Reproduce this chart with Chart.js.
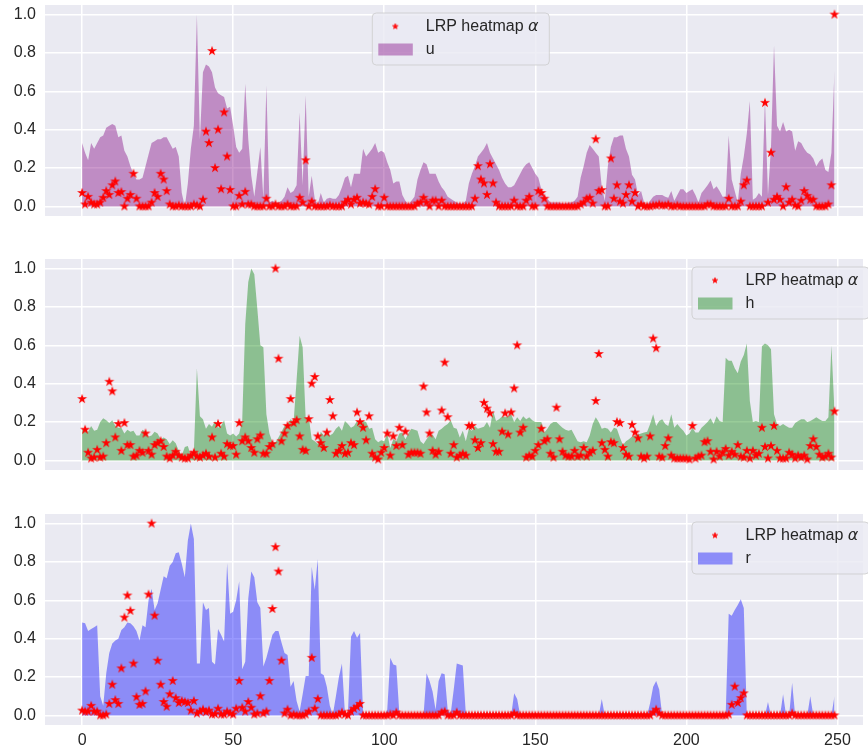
<!DOCTYPE html>
<html>
<head>
<meta charset="utf-8">
<script src="https://cdn.jsdelivr.net/npm/chart.js@4"></script>
<style>
  html, body { margin: 0; padding: 0; background: #ffffff; }
  #wrap { position: relative; width: 868px; height: 750px; overflow: hidden; background: #ffffff; }
  .panel { position: absolute; left: 0; width: 868px; }
  .panel canvas { display: block; }
</style>
</head>
<body>
<div id="wrap">
  <div class="panel" style="top:-5px"><canvas id="chartU" width="868" height="231"></canvas></div>
  <div class="panel" style="top:249px"><canvas id="chartH" width="868" height="231"></canvas></div>
  <div class="panel" style="top:504px"><canvas id="chartR" width="868" height="251"></canvas></div>
</div>
<script>
// Tick positions shared by the three panels
const yTickValues = [0, 0.2, 0.4, 0.6, 0.8, 1.0];
const xTickValues = [0, 50, 100, 150, 200, 250];

// Legend labels
const pointLegendText = 'LRP heatmap ';
const pointLegendSymbol = 'α';
const seriesNames = ['u', 'h', 'r'];

// Gate activation u (filled area) and LRP relevance per time step
const uArea = [
  0.33,0.28,0.24,0.33,0.30,0.33,0.36,0.37,0.41,0.42,
  0.43,0.42,0.36,0.37,0.29,0.26,0.21,0.17,0.14,0.14,
  0.15,0.21,0.27,0.33,0.34,0.35,0.35,0.36,0.36,0.33,
  0.30,0.31,0.26,0.07,0.00,0.12,0.30,0.42,1.00,0.35,
  0.70,0.74,0.73,0.70,0.62,0.59,0.58,0.57,0.51,0.52,
  0.42,0.31,0.28,0.30,0.64,0.35,0.16,0.05,0.18,0.31,
  0.04,0.63,0.02,0.03,0.02,0.02,0.03,0.05,0.10,0.07,
  0.08,0.11,0.49,0.11,0.58,0.05,0.16,0.04,0.01,0.07,
  0.02,0.04,0.045,0.04,0.04,0.06,0.10,0.15,0.16,0.10,
  0.17,0.17,0.17,0.30,0.26,0.28,0.30,0.33,0.28,0.29,
  0.28,0.23,0.19,0.12,0.13,0.13,0.06,0.03,0.01,0.03,
  0.05,0.14,0.19,0.23,0.22,0.17,0.17,0.17,0.13,0.10,
  0.08,0.05,0.04,0.03,0.02,0.015,0.015,0.03,0.12,0.17,
  0.21,0.26,0.28,0.30,0.33,0.28,0.25,0.22,0.19,0.15,
  0.12,0.10,0.10,0.11,0.14,0.17,0.20,0.22,0.23,0.20,
  0.17,0.15,0.09,0.06,0.04,0.02,0.02,0.02,0.02,0.015,
  0.015,0.02,0.02,0.03,0.05,0.15,0.21,0.28,0.32,0.30,
  0.28,0.26,0.10,0.03,0.21,0.31,0.36,0.36,0.37,0.37,
  0.30,0.26,0.165,0.14,0.06,0.08,0.02,0.01,0.03,0.05,
  0.06,0.06,0.06,0.05,0.045,0.08,0.03,0.06,0.09,0.09,
  0.07,0.08,0.09,0.06,0.02,0.07,0.09,0.11,0.135,0.09,
  0.105,0.08,0.05,0.05,0.37,0.14,0.08,0.02,0.17,0.26,
  0.38,0.55,0.035,0.045,0.07,0.05,0.56,0.06,0.31,0.84,
  0.42,0.39,0.44,0.39,0.40,0.39,0.29,0.34,0.33,0.30,
  0.28,0.27,0.25,0.21,0.235,0.25,0.19,0.18,0.28,0.71
];
const uAlpha = [
  0.07,0.01,0.05,0.02,0.01,0.01,0.02,0.045,0.08,0.06,
  0.11,0.13,0.07,0.075,0.00,0.04,0.06,0.17,0.04,0.00,
  0.00,0.00,0.00,0.02,0.07,0.05,0.17,0.14,0.08,0.01,
  0,0,0.005,0,0,0,0,0.01,0.005,0,
  0.035,0.39,0.33,0.81,0.20,0.40,0.09,0.49,0.26,0.086,
  0,0,0.055,0.01,0.076,0.01,0.01,0,0,0,
  0,0.04,0,0,0.01,0,0,0,0.01,0,
  0,0,0.045,0.02,0.24,0,0.025,0,0,0,
  0,0,0.005,0,0,0,0,0.02,0.035,0.01,
  0.035,0.045,0.015,0.02,0.015,0.01,0.05,0.09,0,0,
  0.045,0,0,0,0,0,0,0,0,0,
  0,0.015,0.02,0.045,0.02,0,0.03,0.03,0,0.03,
  0,0,0,0,0,0,0,0,0,0,
  0.04,0.21,0.14,0.12,0.06,0.22,0.12,0.02,0,0,
  0,0,0,0.03,0,0,0,0.03,0.05,0,
  0,0.08,0.07,0.04,0,0,0,0,0,0,
  0,0,0,0,0,0.01,0.02,0.04,0.045,0.015,
  0.35,0.08,0.085,0,0,0.25,0.04,0.11,0.025,0.015,
  0.06,0.11,0.025,0.07,0,0.01,0,0,0,0.005,
  0.005,0.01,0.005,0.005,0.01,0,0,0.005,0,0,
  0,0,0,0,0,0,0,0.01,0.01,0,
  0,0,0,0,0.04,0,0,0,0.025,0.11,
  0.135,0,0,0,0,0,0.54,0.02,0.28,0.035,
  0.05,0.035,0,0.10,0.02,0.035,0.005,0,0.03,0.08,
  0.055,0.035,0.035,0,0,0,0,0.01,0.11,1.00
];

// Hidden state h (filled area) and LRP relevance per time step
const hArea = [
  0.16,0.16,0.15,0.18,0.155,0.16,0.20,0.22,0.21,0.195,
  0.21,0.18,0.17,0.17,0.14,0.16,0.15,0.155,0.13,0.13,
  0.16,0.15,0.125,0.13,0.15,0.14,0.11,0.12,0.11,0.085,
  0.105,0.09,0.05,0.025,0.07,0.075,0.025,0.045,0.48,0.23,
  0.215,0.165,0.19,0.175,0.205,0.17,0.18,0.21,0.14,0.13,
  0.14,0.125,0.14,0.21,0.71,0.93,1.00,0.97,0.79,0.60,
  0.59,0.24,0.14,0.095,0.095,0.12,0.15,0.18,0.19,0.215,
  0.20,0.42,0.65,0.59,0.22,0.23,0.11,0.10,0.085,0.15,
  0.13,0.145,0.13,0.14,0.165,0.18,0.155,0.205,0.19,0.17,
  0.18,0.205,0.19,0.205,0.20,0.165,0.17,0.11,0.095,0.105,
  0.10,0.14,0.065,0.11,0.10,0.14,0.145,0.11,0.14,0.165,
  0.16,0.155,0.10,0.085,0.11,0.13,0.135,0.11,0.155,0.165,
  0.18,0.19,0.21,0.17,0.165,0.12,0.155,0.10,0.165,0.155,
  0.18,0.165,0.17,0.175,0.20,0.17,0.26,0.205,0.215,0.23,
  0.225,0.23,0.24,0.20,0.225,0.205,0.23,0.215,0.225,0.21,
  0.20,0.20,0.20,0.145,0.165,0.19,0.20,0.20,0.185,0.17,
  0.16,0.155,0.16,0.13,0.10,0.095,0.10,0.095,0.13,0.19,
  0.225,0.20,0.165,0.17,0.165,0.145,0.17,0.165,0.12,0.08,
  0.10,0.11,0.125,0.13,0.135,0.14,0.145,0.15,0.19,0.24,
  0.18,0.205,0.215,0.19,0.18,0.24,0.17,0.19,0.17,0.155,
  0.13,0.14,0.17,0.145,0.145,0.17,0.185,0.20,0.22,0.19,
  0.23,0.205,0.20,0.535,0.52,0.52,0.48,0.455,0.515,0.55,
  0.61,0.31,0.20,0.205,0.20,0.595,0.61,0.60,0.58,0.24,
  0.19,0.18,0.19,0.18,0.17,0.17,0.195,0.205,0.215,0.215,
  0.20,0.205,0.215,0.225,0.215,0.205,0.205,0.225,0.60,0.26
];
const hAlpha = [
  0.32,0.16,0.04,0.01,0.015,0.055,0.015,0.02,0.09,0.41,
  0.36,0.12,0.19,0.05,0.195,0.08,0.08,0.02,0.025,0.05,
  0.04,0.14,0.05,0.03,0.08,0.09,0.10,0.07,0.02,0.01,
  0.025,0.045,0.025,0.015,0.01,0.01,0.025,0.04,0.02,0.015,
  0.025,0.035,0.02,0.12,0.015,0.19,0.035,0.02,0.085,0.075,
  0.075,0.03,0.195,0.10,0.12,0.10,0.065,0.04,0.11,0.13,
  0.035,0.035,0.07,0.085,1.00,0.53,0.10,0.14,0.18,0.32,
  0.195,0.21,0.125,0.055,0.05,0.215,0.40,0.435,0.125,0.09,
  0.065,0.145,0.315,0.23,0.035,0.05,0.075,0.035,0.04,0.09,
  0.08,0.25,0.20,0.17,0.105,0.23,0.035,0.015,0.005,0.04,
  0.065,0.14,0.025,0.125,0.075,0.17,0.08,0.15,0.03,0.04,
  0.04,0.04,0.035,0.385,0.25,0.14,0.05,0.03,0.045,0.26,
  0.51,0.225,0.035,0.08,0.015,0.025,0.035,0.025,0.18,0.18,
  0.105,0.065,0.09,0.30,0.27,0.245,0.085,0.045,0.045,0.15,
  0.245,0.135,0.25,0.375,0.60,0.145,0.17,0.015,0.025,0.02,
  0.05,0.08,0.165,0.10,0.11,0.035,0.015,0.275,0.11,0.045,
  0.025,0.02,0.02,0.05,0.02,0.025,0.065,0.02,0.04,0.05,
  0.31,0.555,0.09,0.055,0.02,0.095,0.09,0.20,0.195,0.065,
  0.03,0.02,0.185,0.145,0.115,0.02,0.01,0.02,0.125,0.635,
  0.585,0.02,0.015,0.075,0.115,0.025,0.01,0.01,0.01,0.01,
  0.01,0.005,0.18,0.01,0.02,0.025,0.095,0.10,0.045,0.005,
  0.045,0.02,0.04,0.06,0.025,0.045,0.03,0.08,0.02,0.015,
  0.05,0.01,0.05,0.025,0.035,0.17,0.07,0.01,0.075,0.18,
  0.05,0.01,0.01,0.01,0.04,0.03,0.01,0.025,0.015,0.025,
  0.005,0.075,0.11,0.07,0.03,0.015,0.02,0.035,0.015,0.255
];

// Reset gate r (filled area) and LRP relevance per time step
const rArea = [
  0.485,0.48,0.44,0.45,0.46,0.47,0.10,0.05,0.22,0.325,
  0.375,0.39,0.40,0.445,0.46,0.485,0.48,0.465,0.44,0.39,
  0.47,0.46,0.60,0.66,0.55,0.585,0.655,0.725,0.715,0.78,
  0.80,0.845,0.85,0.79,0.72,0.91,1.00,0.92,0.27,0.27,
  0.59,0.55,0.56,0.28,0.265,0.45,0.42,0.385,0.795,0.53,
  0.54,0.60,0.70,0.24,0.28,0.61,0.75,0.72,0.59,0.56,
  0.255,0.30,0.36,0.42,0.44,0.44,0.38,0.325,0.315,0.15,
  0.18,0.075,0.02,0.11,0.205,0.205,0.775,0.655,0.815,0.22,
  0.21,0.15,0.05,0.005,0.10,0.20,0.27,0.01,0.015,0.41,
  0.44,0.405,0.43,0.01,0,0,0,0,0,0,
  0,0.03,0.30,0.265,0.26,0.01,0,0,0,0,
  0,0,0,0,0.22,0.18,0.125,0.03,0.18,0.22,
  0.215,0.03,0.01,0.135,0.27,0.265,0.26,0.01,0,0,
  0,0,0,0,0,0,0,0,0,0,
  0,0,0,0.115,0.085,0,0,0,0,0,
  0,0,0,0,0,0,0,0,0,0,
  0,0,0,0,0,0,0,0,0,0,
  0,0,0.085,0,0,0,0,0,0,0,
  0,0,0,0,0,0,0,0,0.065,0.15,
  0.18,0.135,0,0,0,0,0,0,0,0,
  0,0,0,0,0,0,0,0,0,0,
  0,0,0,0,0.53,0.52,0.55,0.575,0.605,0.56,
  0,0,0,0,0,0,0,0.07,0,0,
  0,0,0.11,0,0,0.17,0,0,0,0,
  0,0.10,0,0,0,0,0,0,0,0.10
];
const rAlpha = [
  0.025,0.02,0.02,0.05,0.02,0.02,0,0,0.005,0.06,
  0.16,0.08,0.06,0.245,0.51,0.625,0.545,0.27,0.095,0.055,
  0.06,0.125,0.63,1.00,0.52,0.285,0.16,0.07,0.045,0.11,
  0.18,0.09,0.065,0.075,0.07,0.065,0.025,0.075,0.01,0.02,
  0.03,0.017,0.025,0.005,0.007,0.035,0.005,0.005,0.02,0.01,
  0.005,0.035,0.18,0.04,0.02,0.07,0.04,0.005,0.01,0.10,
  0.01,0.02,0.18,0.555,0.877,0.75,0.285,0.01,0.03,0,
  0.005,0,0,0,0.005,0.02,0.30,0.035,0.085,0,
  0,0,0,0,0,0.005,0.015,0.005,0,0.02,
  0.035,0.045,0.06,0,0,0,0,0,0,0,
  0,0,0.005,0,0.015,0,0,0,0,0,
  0,0,0,0,0,0,0,0,0,0.015,
  0.02,0,0,0,0.015,0,0,0,0,0,
  0,0,0,0,0,0,0,0,0,0,
  0,0,0,0.01,0,0,0,0,0,0,
  0,0,0,0,0,0,0,0,0,0,
  0,0,0,0,0,0,0,0,0,0,
  0,0,0,0,0,0,0,0,0,0,
  0,0,0,0,0,0,0,0,0,0.015,
  0.03,0.01,0,0,0,0,0,0,0,0,
  0,0,0,0,0,0,0,0,0,0,
  0,0,0,0,0.005,0.055,0.15,0.065,0.09,0.115,
  0,0,0,0,0,0,0,0,0,0,
  0,0,0,0,0,0.01,0,0,0,0,
  0,0,0,0,0,0,0,0,0,0
];

const TEXT = '#262626';
const FONT = "'Liberation Sans', Arial, sans-serif";

// Filled five-pointed star used as the scatter marker
function makeStar(outer, lw) {
  const s = Math.ceil((outer + lw) * 2) + 2;
  const c = document.createElement('canvas');
  c.width = s; c.height = s;
  const g = c.getContext('2d');
  const inner = outer * 0.381966;
  g.beginPath();
  for (let k = 0; k < 10; k++) {
    const rad = k % 2 ? inner : outer;
    const a = -Math.PI / 2 + k * Math.PI / 5;
    const px = s / 2 + rad * Math.cos(a), py = s / 2 + rad * Math.sin(a);
    if (k) g.lineTo(px, py); else g.moveTo(px, py);
  }
  g.closePath();
  g.fillStyle = '#ff0000';
  g.fill();
  g.lineWidth = lw;
  g.strokeStyle = '#ff0000';
  g.stroke();
  return c;
}
const starMarker = makeStar(3.5, 1.1);
const starLegend = makeStar(2.8, 0.8);

// Legend box drawn inside the plot area
const boxLegend = {
  id: 'boxLegend',
  afterDraw(chart, args, o) {
    const g = chart.ctx;
    const left = o.left, top = chart.chartArea.top + 8, w = 177, h = 52, rr = 4;
    g.save();
    g.beginPath();
    g.moveTo(left + rr, top);
    g.lineTo(left + w - rr, top);
    g.arcTo(left + w, top, left + w, top + rr, rr);
    g.lineTo(left + w, top + h - rr);
    g.arcTo(left + w, top + h, left + w - rr, top + h, rr);
    g.lineTo(left + rr, top + h);
    g.arcTo(left, top + h, left, top + h - rr, rr);
    g.lineTo(left, top + rr);
    g.arcTo(left, top, left + rr, top, rr);
    g.closePath();
    g.fillStyle = 'rgba(234,234,242,0.8)';
    g.fill();
    g.lineWidth = 1;
    g.strokeStyle = 'rgba(204,204,204,0.8)';
    g.stroke();

    g.drawImage(starLegend, left + 23 - starLegend.width / 2, top + 13.5 - starLegend.height / 2);
    g.fillStyle = TEXT;
    g.textBaseline = 'middle';
    g.textAlign = 'left';
    g.font = '16px ' + FONT;
    g.fillText(pointLegendText, left + 53.5, top + 14);
    const w1 = g.measureText(pointLegendText).width;
    g.font = "italic 16px 'DejaVu Sans', sans-serif";
    g.fillText(pointLegendSymbol, left + 53.5 + w1, top + 14);

    g.fillStyle = o.colour;
    g.fillRect(left + 6, top + 30.5, 34.5, 12);
    g.fillStyle = TEXT;
    g.font = '16px ' + FONT;
    g.fillText(o.name, left + 53.5, top + 37);
    g.restore();
  }
};

function buildPanel(canvasId, areaValues, alphaValues, colour, name, legendLeft, showXLabels) {
  return new Chart(document.getElementById(canvasId), {
    data: {
      datasets: [
        {
          type: 'scatter',
          label: pointLegendText + pointLegendSymbol,
          data: alphaValues.map((v, i) => ({ x: i, y: v })),
          pointStyle: starMarker,
          pointRadius: 4,
          pointHoverRadius: 4,
          order: 0
        },
        {
          type: 'line',
          label: name,
          data: areaValues.map((v, i) => ({ x: i, y: v })),
          fill: 'origin',
          backgroundColor: colour,
          borderColor: 'rgba(0,0,0,0)',
          borderWidth: 0,
          pointRadius: 0,
          tension: 0,
          order: 1
        }
      ]
    },
    options: {
      responsive: false,
      animation: false,
      events: [],
      layout: { padding: { top: 10, bottom: showXLabels ? 0 : 10, left: 0, right: 0 } },
      plugins: {
        legend: { display: false },
        tooltip: { enabled: false },
        boxLegend: { left: legendLeft, colour: colour, name: name }
      },
      scales: {
        x: {
          type: 'linear',
          min: -12.27,
          max: 258.45,
          border: { display: false },
          grid: { color: '#ffffff', lineWidth: 1.5, drawTicks: false },
          ticks: {
            display: showXLabels,
            color: TEXT,
            padding: 6,
            maxRotation: 0,
            font: { family: FONT, size: 16 },
            callback: v => String(v)
          },
          afterBuildTicks: s => { s.ticks = xTickValues.map(v => ({ value: v })); },
          afterFit: s => {
            s.height = showXLabels ? 30 : 0;
            s.paddingLeft = 0; s.paddingRight = 0;
          }
        },
        y: {
          min: -0.05,
          max: 1.05,
          border: { display: false },
          grid: { color: '#ffffff', lineWidth: 1.5, drawTicks: false },
          ticks: {
            color: TEXT,
            padding: 9,
            font: { family: FONT, size: 16 },
            callback: v => Number(v).toFixed(1)
          },
          afterBuildTicks: s => { s.ticks = yTickValues.map(v => ({ value: v })); },
          afterFit: s => {
            s.width = 45;
            s.paddingTop = 0; s.paddingBottom = 0;
          }
        }
      }
    },
    plugins: [
      {
        id: 'plotBackground',
        beforeDraw(chart) {
          const a = chart.chartArea, g = chart.ctx;
          g.save();
          g.fillStyle = '#eaeaf2';
          g.fillRect(a.left, a.top, a.right - a.left, a.bottom - a.top);
          g.restore();
        }
      },
      boxLegend
    ]
  });
}

buildPanel('chartU', uArea, uAlpha, 'rgba(128,0,128,0.4)', seriesNames[0], 372.3, false);
buildPanel('chartH', hArea, hAlpha, 'rgba(0,128,0,0.4)', seriesNames[1], 692, false);
buildPanel('chartR', rArea, rAlpha, 'rgba(0,0,255,0.4)', seriesNames[2], 692, true);
</script>
</body>
</html>
